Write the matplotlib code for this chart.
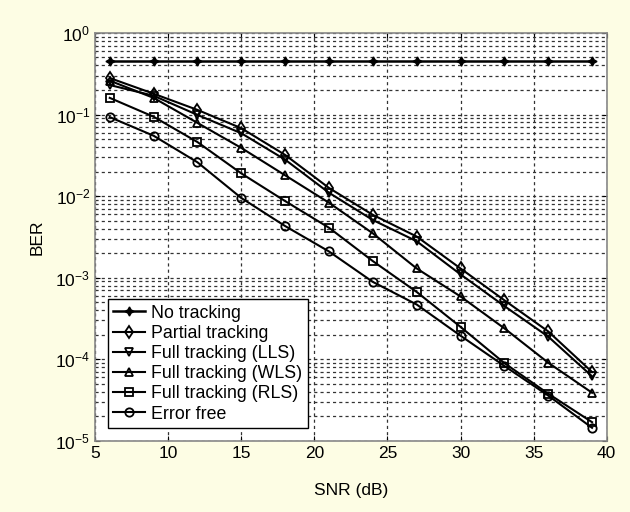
import numpy as np
import matplotlib
matplotlib.use("Agg")
import matplotlib.pyplot as plt
from matplotlib.ticker import LogLocator, NullFormatter

plt.rcParams['font.family'] = ['Liberation Sans', 'DejaVu Sans']
plt.rcParams['mathtext.default'] = 'regular'

# ------------------------------
# Data
# ------------------------------
snr = [6, 9, 12, 15, 18, 21, 24, 27, 30, 33, 36, 39]
ber_none = [0.45] * 12
ber_partial = [0.28, 0.18, 0.114, 0.068, 0.032, 0.0126, 0.0059, 0.0032, 0.0013, 0.00053, 0.00022, 7.0e-5]
ber_lls = [0.23, 0.17, 0.099, 0.059, 0.028, 0.011, 0.0051, 0.0028, 0.0011, 0.00045, 0.00019, 6.2e-5]
ber_wls = [0.26, 0.16, 0.079, 0.039, 0.018, 0.0083, 0.0035, 0.0013, 0.00059, 0.00024, 9.1e-5, 3.9e-5]
ber_rls = [0.16, 0.094, 0.046, 0.019, 0.0087, 0.0041, 0.0016, 0.00067, 0.00025, 9.0e-5, 3.8e-5, 1.7e-5]
ber_free = [0.093, 0.055, 0.026, 0.0095, 0.0043, 0.0021, 0.00089, 0.00047, 0.000195, 8.3e-5, 3.6e-5, 1.45e-5]

series = [
    (ber_none, 'No tracking', (4, 1, 0)),
    (ber_partial, 'Partial tracking', 'd'),
    (ber_lls, 'Full tracking (LLS)', 'v'),
    (ber_wls, 'Full tracking (WLS)', '^'),
    (ber_rls, 'Full tracking (RLS)', 's'),
    (ber_free, 'Error free', 'o'),
]

bg = '#FDFDE4'
fig = plt.figure(figsize=(6.3, 5.12), dpi=100, facecolor=bg)
ax = fig.add_axes([0.151, 0.1387, 0.812, 0.797])

for vals, label, mk in series:
    if label == 'No tracking':
        ax.semilogy(snr, vals, color='black', lw=1.8, marker=mk, ms=6.5,
                    mfc='black', mec='black', label=label)
    else:
        ax.semilogy(snr, vals, color='black', lw=1.5, marker=mk, ms=6,
                    mfc='none', mec='black', mew=1.3, label=label)

ax.set_xlim(5, 40)
ax.set_ylim(1e-5, 1)
ax.set_xticks([5, 10, 15, 20, 25, 30, 35, 40])
ax.yaxis.set_major_locator(LogLocator(base=10, numticks=10))
ax.yaxis.set_minor_locator(LogLocator(base=10, subs=np.arange(2, 10), numticks=20))
ax.yaxis.set_minor_formatter(NullFormatter())

grid_kw = dict(color='#333333', linestyle=(0, (2.5, 2.5)), linewidth=0.9)
ax.grid(True, which='major', axis='both', **grid_kw)
ax.grid(True, which='minor', axis='y', **grid_kw)

ax.tick_params(which='both', direction='in', top=True, right=True, labelsize=12.5)
ax.tick_params(which='minor', length=0)
for s in ax.spines.values():
    s.set_color('#888888')
    s.set_linewidth(1.2)

ax.set_xlabel('SNR (dB)', fontsize=12.5, labelpad=16)
ax.set_ylabel('BER', fontsize=12.5, labelpad=8)

leg = ax.legend(loc='lower left', bbox_to_anchor=(0.025, 0.032), borderaxespad=0,
                fontsize=12.8, handlelength=1.8, labelspacing=0.18, handletextpad=0.35,
                borderpad=0.3, fancybox=False, framealpha=1)
leg.get_frame().set_edgecolor('black')
leg.get_frame().set_linewidth(1.0)

fig.savefig('out.png', dpi=100, facecolor=bg)
